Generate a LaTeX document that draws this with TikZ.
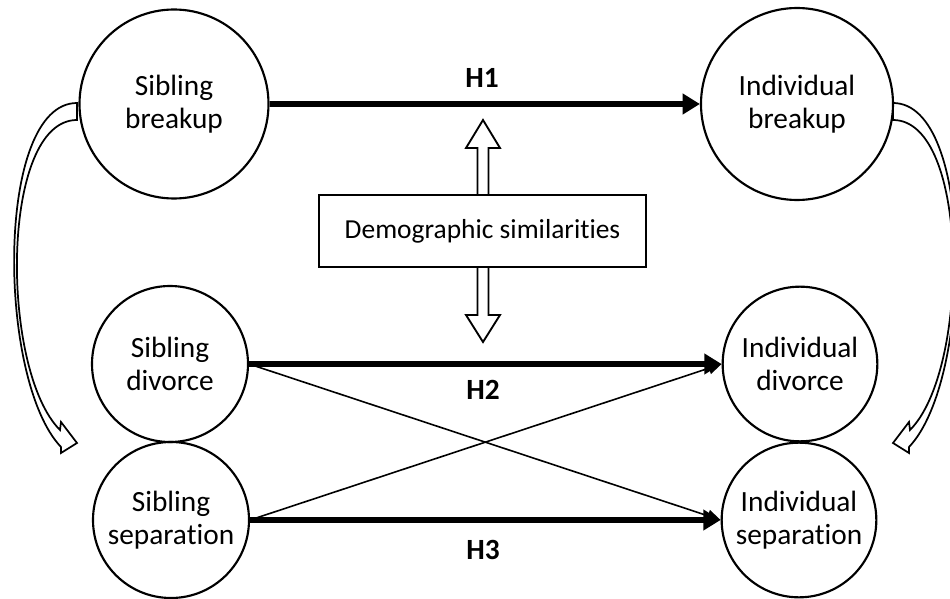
\documentclass[tikz,border=0pt]{standalone}
\usepackage{fontspec}
\setmainfont{Carlito}[Ligatures=NoCommon]
\usetikzlibrary{arrows.meta}
\begin{document}
\begin{tikzpicture}[x=0.75pt,y=-0.75pt,
  txt/.style={font=\fontsize{20.6}{24.75}\selectfont},
  ctxt/.style={font=\fontsize{22}{24.75}\selectfont},
  circ/.style={circle, draw, line width=1.6pt, inner sep=0pt, align=center, ctxt},
  hyp/.style={line width=4pt, -{Triangle[length=13pt,width=15pt]}},
  crossline/.style={line width=1.2pt, -{Triangle[length=10pt,width=9pt]}},
  hlabel/.style={font=\fontsize{22}{24.75}\selectfont\bfseries},
  hollow/.style={draw, fill=white, line width=1.4pt, line join=miter},
  bandarrow/.style={draw, fill=white, line width=1.3pt, line join=miter},
]
\useasboundingbox (0,0) rectangle (950,599);

% curved hollow arrows
\begin{scope}
\clip (0,0) rectangle (950,599);
\path[bandarrow] (77,103) .. controls (-5,103) and (-3,380) .. (61,447) -- (61,453) -- (77,443) -- (61,422) -- (60,430) .. controls (0,370) and (0,120) .. (77,120) -- cycle;
\path[bandarrow] (893,103) .. controls (975,103) and (973,380) .. (909,447) -- (909,453) -- (893,443) -- (909,422) -- (910,430) .. controls (970,370) and (970,120) .. (893,120) -- cycle;
\end{scope}

% circles
\node[circ, minimum size=141.75pt] (sb) at (174,104) {Sibling\\breakup};
\node[circ, minimum size=144pt] (ib) at (797,104) {Individual\\breakup};
\node[circ, minimum size=117pt] (sd) at (170,364) {Sibling\\divorce};
\node[circ, minimum size=117pt] (ss) at (171,520) {Sibling\\separation};
\node[circ, minimum size=116pt] (id) at (800,364) {Individual\\divorce};
\node[circ, minimum size=116pt] (is) at (799,520) {Individual\\separation};

% hollow vertical arrows
\path[hollow] (477.5,197) -- (477.5,148) -- (466,148) -- (483,120) -- (500,148) -- (488.5,148) -- (488.5,197);
\path[hollow] (477.5,265) -- (477.5,315) -- (466,315) -- (483,342) -- (500,315) -- (488.5,315) -- (488.5,265);

% box
\node[draw, fill=white, line width=1.6pt, minimum width=245pt, minimum height=54pt, inner sep=0pt, txt] (demo) at (482.5,231) {Demographic similarities};

% hypotheses
\draw[hyp] (sb.east) -- (ib.west);
\draw[hyp] (sd.east) -- (id.west);
\draw[hyp] (ss.east) -- (is.west);
\draw[crossline] (sd.east) -- (is.west);
\draw[crossline] (ss.east) -- (id.west);

\node[hlabel] (h1) at (482,78) {H1};
\node[hlabel] (h2) at (483,390) {H2};
\node[hlabel] (h3) at (483,550) {H3};
\end{tikzpicture}
\end{document}
